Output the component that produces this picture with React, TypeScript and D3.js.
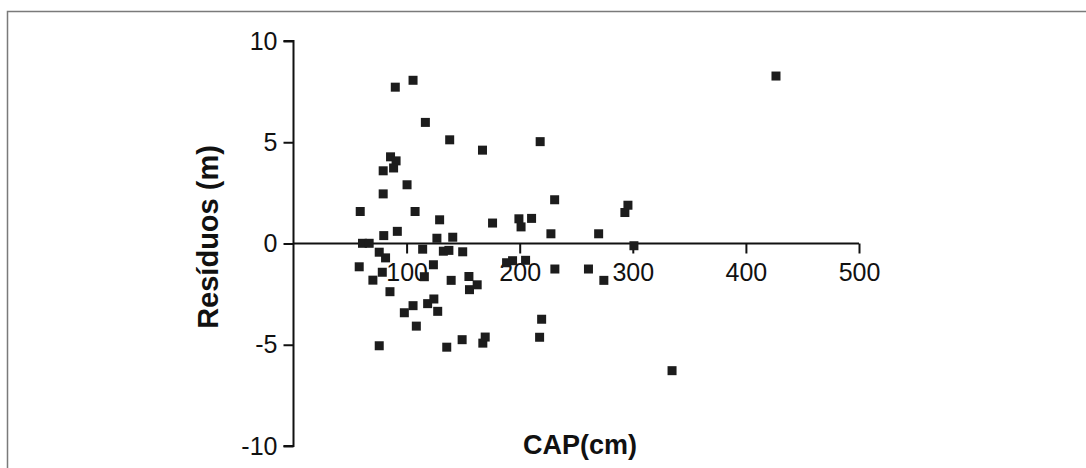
import * as d3 from "d3";
import { useEffect, useRef } from "react";

// CAP (cm) and residual (m)
const cap = [
  90.0, 105.7, 116.6, 138.1, 167.1, 218.1, 85.8, 90.7, 79.3, 88.5,
  100.4, 79.3, 230.9, 59.0, 107.5, 129.2, 176.0, 199.3, 201.2, 210.5,
  227.6, 79.8, 91.8, 126.8, 140.8, 61.0, 66.9, 75.8, 81.4, 58.1,
  78.5, 70.2, 85.3, 114.2, 132.5, 137.4, 149.6, 123.7, 115.7, 139.4,
  155.1, 162.4, 155.6, 98.0, 105.7, 118.6, 124.1, 127.5, 108.6, 75.8,
  135.5, 149.1, 167.4, 169.5, 188.4, 193.7, 205.2, 231.1, 219.4, 217.6,
  269.8, 293.0, 295.7, 301.0, 260.8, 274.4, 426.6, 334.7,
];
const residuos = [
  7.72, 8.06, 5.98, 5.12, 4.61, 5.03, 4.28, 4.08, 3.59, 3.73,
  2.90, 2.45, 2.16, 1.58, 1.58, 1.17, 1.01, 1.22, 0.82, 1.24,
  0.48, 0.39, 0.60, 0.26, 0.31, 0.01, 0.01, -0.43, -0.71, -1.15,
  -1.42, -1.81, -2.38, -0.28, -0.38, -0.34, -0.41, -1.05, -1.64, -1.82,
  -1.63, -2.04, -2.28, -3.42, -3.07, -2.97, -2.74, -3.35, -4.08, -5.05,
  -5.12, -4.75, -4.92, -4.62, -0.95, -0.85, -0.83, -1.26, -3.74, -4.63,
  0.48, 1.53, 1.89, -0.11, -1.26, -1.82, 8.27, -6.28,
];
const xTicks = [100, 200, 300, 400, 500];
const yTicks = [-10, -5, 0, 5, 10];

export default function App() {
  const svgRef = useRef(null);
  const width = 1086;
  const height = 468;

  useEffect(() => {
    const svg = d3.select(svgRef.current);
    svg.selectAll("*").remove();

    const x = d3.scaleLinear().domain([0, 500]).range([293.5, 859]);
    const y = d3.scaleLinear().domain([-10, 10]).range([446, 41]);
    const font = "'Liberation Sans', Arial, sans-serif";

    // grey frame (top and left only)
    svg.append("path")
      .attr("d", `M7.5,${height} V11.5 H${width}`)
      .attr("fill", "none")
      .attr("stroke", "#7a7a7a")
      .attr("stroke-width", 1.5);

    // y axis
    const yAxis = d3.axisLeft(y)
      .tickValues(yTicks)
      .tickSize(10)
      .tickPadding(6)
      .tickFormat(d => String(d));
    svg.append("g")
      .attr("transform", `translate(${x(0)},0)`)
      .call(yAxis)
      .call(g => {
        g.select(".domain").attr("stroke", "#111").attr("stroke-width", 2)
          .attr("d", `M-10,${y(10)}H0V${y(-10)}H-10`);
        g.selectAll(".tick line").attr("stroke", "#111").attr("stroke-width", 2);
        g.selectAll(".tick text")
          .attr("fill", "#111")
          .style("font-family", font)
          .style("font-size", "25px");
      });

    // x axis crossing at zero
    const xAxis = d3.axisBottom(x)
      .tickValues(xTicks)
      .tickSize(10)
      .tickPadding(10)
      .tickFormat(d => String(d));
    svg.append("g")
      .attr("transform", `translate(0,${y(0)})`)
      .call(xAxis)
      .call(g => {
        g.select(".domain").attr("stroke", "#111").attr("stroke-width", 2)
          .attr("d", `M${x(0)},0H${x(500)}`);
        g.selectAll(".tick line").attr("stroke", "#111").attr("stroke-width", 2);
        g.selectAll(".tick text")
          .attr("fill", "#111")
          .style("font-family", font)
          .style("font-size", "25px");
      });

    // points
    const size = 9;
    svg.append("g")
      .selectAll("rect")
      .data(d3.range(cap.length))
      .join("rect")
      .attr("x", i => x(cap[i]) - size / 2)
      .attr("y", i => y(residuos[i]) - size / 2)
      .attr("width", size)
      .attr("height", size)
      .attr("fill", "#1c1c1c");

    // axis titles
    svg.append("text")
      .attr("transform", `translate(218,237) rotate(-90)`)
      .attr("text-anchor", "middle")
      .attr("fill", "#111")
      .style("font-family", font)
      .style("font-weight", "bold")
      .style("font-size", "29px")
      .text("Resíduos (m)");

    svg.append("text")
      .attr("x", 580)
      .attr("y", 454)
      .attr("text-anchor", "middle")
      .attr("fill", "#111")
      .style("font-family", font)
      .style("font-weight", "bold")
      .style("font-size", "27px")
      .text("CAP(cm)");
  }, []);

  return (
    <svg
      ref={svgRef}
      width={width}
      height={height}
      style={{ position: "fixed", left: 0, top: 0, background: "#fff" }}
    />
  );
}
